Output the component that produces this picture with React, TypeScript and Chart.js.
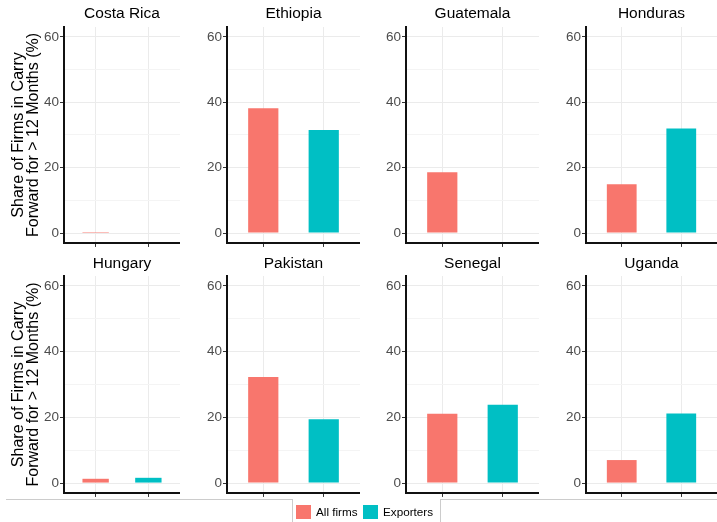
import React, { useEffect, useRef } from "react";
import { Chart, registerables } from "chart.js";

Chart.register(...registerables);

// Share of firms carrying forward for more than 12 months, by country
const countries = [
  "Costa Rica",
  "Ethiopia",
  "Guatemala",
  "Honduras",
  "Hungary",
  "Pakistan",
  "Senegal",
  "Uganda",
];
const seriesNames = ["All firms", "Exporters"];
const allFirms = [0.3, 38.2, 18.6, 14.9, 1.3, 32.3, 21.1, 7.0];
const exporters: (number | null)[] = [null, 31.5, null, 32.0, 1.6, 19.4, 23.8, 21.2];
const yTicks = [0, 20, 40, 60];
const yTitle = ["Share of Firms in Carry", "Forward for > 12 Months (%)"];

const COLORS = ["#F8766D", "#00BFC4"];
const FONT = "'Liberation Sans', Arial, Helvetica, sans-serif";

// grid geometry (px)
const COL_PANEL_LEFT = [64, 227, 406, 586];
const COL_PANEL_RIGHT = [180, 360, 539, 717];
const ROW_TOP = [0, 250];
const ROW_AREA_TOP = [27, 26];
const ROW_HEIGHT = 250;
const X_AXIS_H = 7;
const Y_AXIS_W = 48;

// minor gridlines sit halfway between major ticks
const minorTicks = yTicks.slice(1).map((v, i) => (v + yTicks[i]) / 2);
const allYTicks = [...yTicks, ...minorTicks].sort((a, b) => a - b);

function Panel({ index }: { index: number }) {
  const ref = useRef<HTMLCanvasElement | null>(null);
  const col = index % 4;
  const row = Math.floor(index / 4);
  const yw = col === 0 ? COL_PANEL_LEFT[0] : Y_AXIS_W;
  const left = COL_PANEL_LEFT[col] - yw;
  const width = COL_PANEL_RIGHT[col] - left;

  useEffect(() => {
    if (!ref.current) return;
    const isMajor = (v: number) => yTicks.includes(v);
    const chart = new Chart(ref.current, {
      type: "bar",
      data: {
        datasets: [
          {
            data: [
              { x: 0, y: allFirms[index] },
              { x: 1, y: exporters[index] as any },
            ],
            backgroundColor: COLORS,
            borderWidth: 0,
            barPercentage: 0.5,
            categoryPercentage: 1,
          },
        ],
      },
      options: {
        animation: false,
        responsive: false,
        maintainAspectRatio: false,
        layout: {
          padding: { top: ROW_AREA_TOP[row], bottom: 0, left: 0, right: 0 },
        },
        plugins: {
          legend: { display: false },
          tooltip: { enabled: false },
          title: { display: false },
        },
        scales: {
          x: {
            type: "linear",
            min: -0.6,
            max: 1.6,
            offset: false,
            afterBuildTicks: (s: any) => {
              s.ticks = seriesNames.map((_, i) => ({ value: i }));
            },
            afterFit: (s: any) => {
              s.height = X_AXIS_H;
            },
            ticks: { display: false },
            grid: {
              offset: false,
              color: "#ebebeb",
              lineWidth: 1,
              tickColor: "#333333",
              tickLength: 4,
              drawTicks: true,
            },
            border: { display: true, color: "#111111", width: 2 },
          },
          y: {
            type: "linear",
            min: -3,
            max: 63,
            afterBuildTicks: (s: any) => {
              s.ticks = allYTicks.map((v) => ({ value: v }));
            },
            afterFit: (s: any) => {
              s.width = yw;
            },
            ticks: {
              padding: 1,
              color: "#4d4d4d",
              font: { family: FONT, size: 13.5, lineHeight: 0.9 },
              callback: (v: any) => (isMajor(Number(v)) ? String(v) : ""),
            },
            grid: {
              color: (ctx: any) =>
                ctx.tick && isMajor(ctx.tick.value) ? "#ebebeb" : "#f4f4f4",
              lineWidth: 1,
              tickColor: (ctx: any) =>
                ctx.tick && isMajor(ctx.tick.value) ? "#333333" : "rgba(0,0,0,0)",
              tickLength: 4,
            },
            border: { display: true, color: "#111111", width: 2 },
            title: {
              display: col === 0,
              text: yTitle,
              color: "#000000",
              font: { family: FONT, size: 16, lineHeight: 0.95 },
              padding: { top: 11, bottom: 0 },
            },
          },
        },
      },
    });
    return () => chart.destroy();
  }, [index]);

  const panelCenter = (COL_PANEL_LEFT[col] + COL_PANEL_RIGHT[col]) / 2;

  return (
    <>
      <canvas
        ref={ref}
        width={width}
        height={ROW_HEIGHT}
        style={{
          position: "absolute",
          left,
          top: ROW_TOP[row],
          width,
          height: ROW_HEIGHT,
        }}
      />
      <div
        style={{
          position: "absolute",
          left: panelCenter - 80,
          width: 160,
          top: ROW_TOP[row] + 3,
          height: 20,
          lineHeight: "20px",
          textAlign: "center",
          fontFamily: FONT,
          fontSize: 15.5,
          color: "#000",
        }}
      >
        {countries[index]}
      </div>
    </>
  );
}

export default function App() {
  return (
    <div
      style={{
        position: "absolute",
        left: 0,
        top: 0,
        width: 717,
        height: 522,
        background: "#ffffff",
        overflow: "hidden",
      }}
    >
      {countries.map((_, i) => (
        <Panel key={i} index={i} />
      ))}
      {/* legend frame lines */}
      <div
        style={{
          position: "absolute",
          left: 6,
          top: 499,
          width: 286,
          height: 0,
          borderTop: "1px solid #cccccc",
        }}
      />
      <div
        style={{
          position: "absolute",
          left: 440,
          top: 499,
          width: 277,
          height: 0,
          borderTop: "1px solid #cccccc",
        }}
      />
      <div
        style={{
          position: "absolute",
          left: 292,
          top: 499,
          width: 149,
          height: 30,
          borderLeft: "1px solid #cccccc",
          borderRight: "1px solid #cccccc",
          boxSizing: "border-box",
          fontFamily: FONT,
          fontSize: 11.7,
          color: "#000",
          whiteSpace: "nowrap",
        }}
      >
        {seriesNames.map((name, i) => (
          <div
            key={name}
            style={{
              position: "absolute",
              left: i === 0 ? 3 : 70,
              top: 6,
              height: 14,
              display: "flex",
              alignItems: "center",
            }}
          >
            <span
              style={{
                display: "inline-block",
                width: 15,
                height: 14,
                background: COLORS[i],
                marginRight: 5,
                flexShrink: 0,
              }}
            />
            <span style={{ lineHeight: "14px" }}>{name}</span>
          </div>
        ))}
      </div>
    </div>
  );
}
